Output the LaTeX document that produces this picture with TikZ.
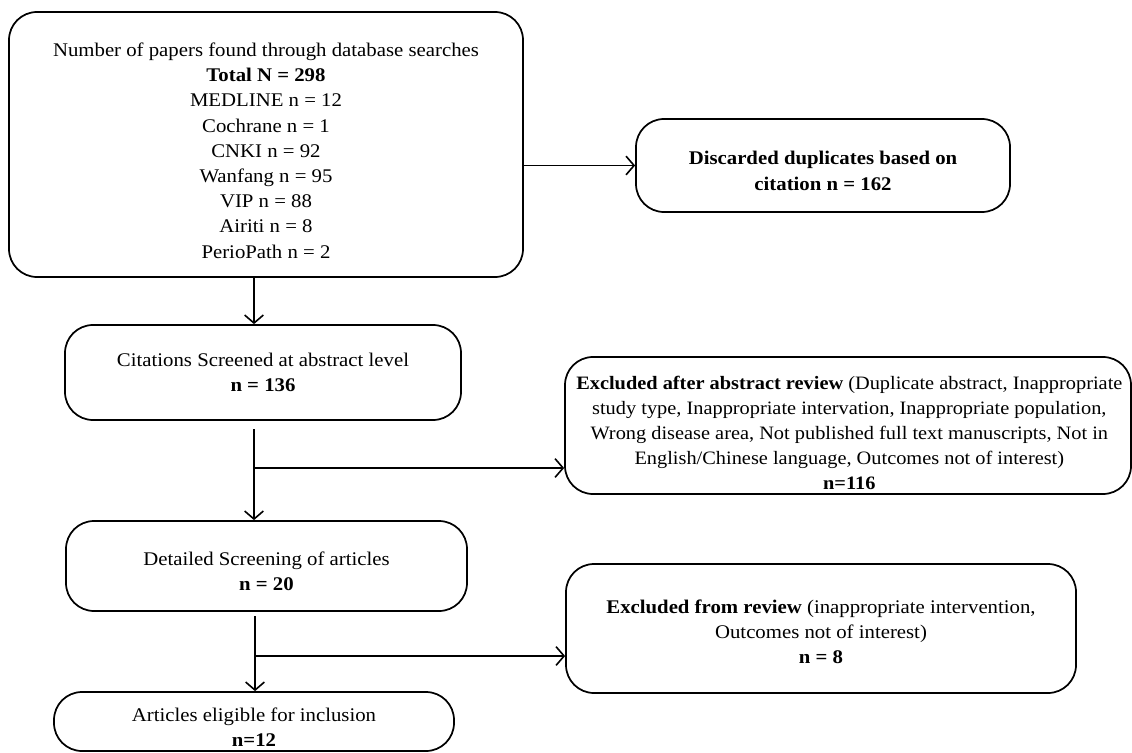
\documentclass[tikz,border=0pt]{standalone}
\usepackage{fontspec}
\setmainfont[FakeStretch=1.075]{Liberation Serif}
\usetikzlibrary{arrows.meta}
\begin{document}
\begin{tikzpicture}[x=0.75pt,y=-0.75pt,
  box/.style={draw, line width=1.3pt, rounded corners=21pt, inner sep=0pt},
  txt/.style={align=center, inner sep=0pt, font=\fontsize{14.5pt}{18.9pt}\selectfont},
  arr/.style={line width=1.2pt, -{Straight Barb[length=6pt,width=14pt,line width=1.2pt]}}]
\useasboundingbox (0,0) rectangle (1132,753);
\node[box, minimum width=385.5pt, minimum height=198.75pt,
  label={[txt,yshift=-4.5pt]center:{Number of papers found through database searches\\ \textbf{Total N = 298}\\ MEDLINE n = 12\\ Cochrane n = 1\\ CNKI n = 92\\ Wanfang n = 95\\ VIP n = 88\\ Airiti n = 8\\ PerioPath n = 2}}] (src) at (266,144.5) {};
\node[box, minimum width=280.5pt, minimum height=69.75pt,
  label={[txt,yshift=-4pt]center:{\textbf{Discarded duplicates based on}\\ \textbf{citation n = 162}}}] (disc) at (823,165.5) {};
\node[box, minimum width=297pt, minimum height=71.25pt,
  label={[txt,yshift=0pt]center:{Citations Screened at abstract level\\ \textbf{n = 136}}}] (cit) at (263,372.5) {};
\node[box, minimum width=424.5pt, minimum height=102.75pt,
  label={[txt,font=\fontsize{14.2pt}{18.9pt}\selectfont,yshift=-5.6pt,xshift=1pt]center:{\textbf{Excluded after abstract review} (Duplicate abstract, Inappropriate\\ study type, Inappropriate intervation, Inappropriate population,\\ Wrong disease area, Not published full text manuscripts, Not in\\ English/Chinese language, Outcomes not of interest)\\ \textbf{n=116}}}] (ex1) at (848,425.5) {};
\node[box, minimum width=300.75pt, minimum height=67.5pt,
  label={[txt,yshift=-4pt]center:{Detailed Screening of articles\\ \textbf{n = 20}}}] (det) at (266.5,566) {};
\node[box, minimum width=382.5pt, minimum height=96.75pt,
  label={[txt,yshift=-2.5pt]center:{\textbf{Excluded from review} (inappropriate intervention,\\ Outcomes not of interest)\\ \textbf{n = 8}}}] (ex2) at (821,628.5) {};
\node[box, minimum width=300pt, minimum height=44.25pt,
  label={[txt,yshift=-4.5pt]center:{Articles eligible for inclusion\\ \textbf{n=12}}}] (art) at (254,721.5) {};
\coordinate (c1) at (254,0);
\coordinate (s2) at (254,429);
\coordinate (b2) at (254,468);
\coordinate (s3) at (255,616);
\coordinate (b3) at (255,656);
\draw[arr] (src.south -| c1) -- (cit.north -| c1);
\draw[arr] (src.east |- disc.west) -- (disc.west);
\draw[arr] (s2) -- (det.north -| s2);
\draw[arr] (b2) -- (ex1.west |- b2);
\draw[arr] (s3) -- (art.north -| s3);
\draw[arr] (b3) -- (ex2.west |- b3);
\end{tikzpicture}
\end{document}
